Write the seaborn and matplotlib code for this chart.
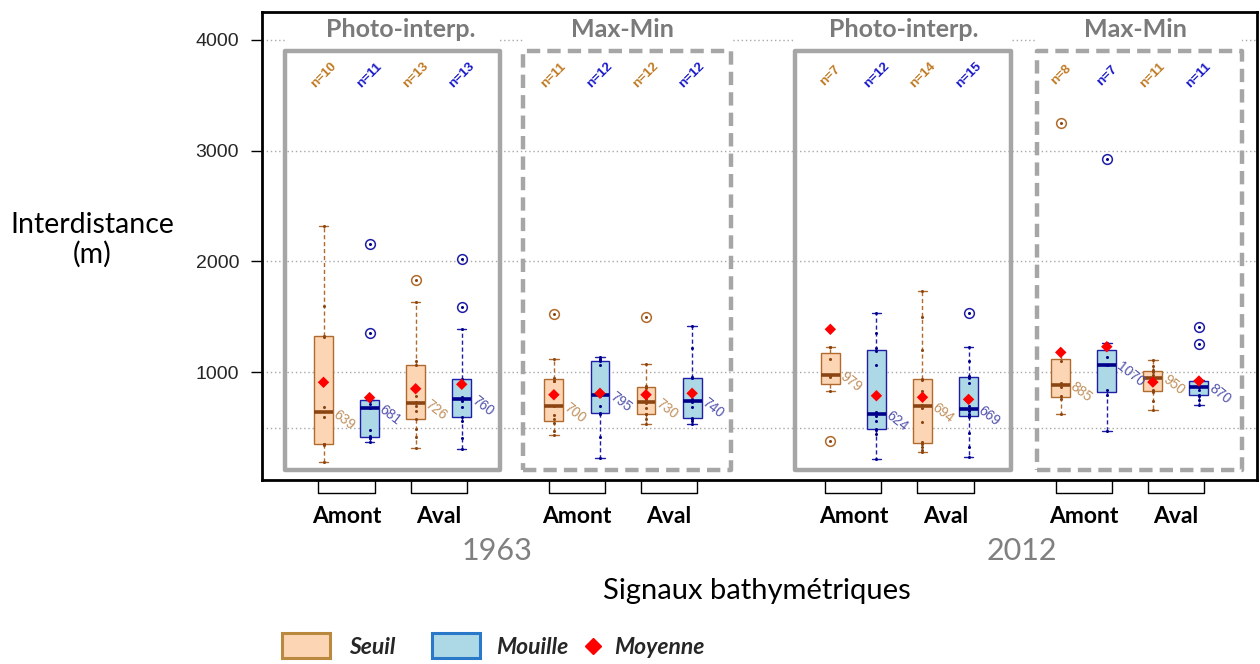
import numpy as np
import pandas as pd
import matplotlib
matplotlib.use("Agg")
import matplotlib.pyplot as plt
import matplotlib.transforms as mtransforms
from matplotlib.patches import Rectangle
from matplotlib.lines import Line2D
import seaborn as sns

# ---------------- data ----------------
years = ["1963", "2012"]
methods = ["Photo-interp.", "Max-Min"]
reaches = ["Amont", "Aval"]
types = ["Seuil", "Mouille"]

# 1963 - Photo-interp.
p63_amont_seuil = [189, 345, 354, 356, 595, 683, 1322, 1327, 1600, 2320]
p63_amont_mouille = [375, 405, 410, 422, 480, 681, 710, 745, 755, 1352, 2157]
p63_aval_seuil = [317, 420, 490, 579, 651, 700, 726, 735, 790, 1066, 1099, 1631, 1833]
p63_aval_mouille = [308, 410, 560, 597, 687, 740, 760, 770, 781, 943, 1390, 1592, 2019]
# 1963 - Max-Min
m63_amont_seuil = [437, 474, 540, 576, 612, 700, 919, 925, 949, 1120, 1526]
m63_amont_mouille = [227, 420, 625, 632, 700, 785, 805, 1069, 1100, 1108, 1120, 1141]
m63_aval_seuil = [531, 580, 625, 628, 680, 720, 740, 762, 862, 874, 1072, 1502]
m63_aval_mouille = [531, 560, 582, 586, 690, 730, 750, 757, 950, 960, 1216, 1420]
# 2012 - Photo-interp.
p12_amont_seuil = [378, 831, 957, 979, 1117, 1225, 1225]
p12_amont_mouille = [218, 440, 480, 488, 560, 610, 638, 1066, 1195, 1220, 1354, 1538]
p12_aval_seuil = [278, 300, 330, 355, 375, 550, 680, 708, 830, 930, 939, 1201, 1501, 1736]
p12_aval_mouille = [233, 330, 450, 600, 612, 620, 650, 669, 700, 900, 950, 970, 1100, 1231, 1535]
# 2012 - Max-Min
m12_amont_seuil = [621, 760, 783, 870, 900, 1100, 1183, 3246]
m12_amont_mouille = [473, 800, 844, 1070, 1141, 1267, 2921]
m12_aval_seuil = [657, 740, 820, 838, 900, 950, 980, 1000, 1024, 1060, 1111]
m12_aval_mouille = [702, 750, 790, 800, 840, 870, 900, 915, 929, 1255, 1411]

# means shown as red diamonds (Amont-Seuil, Amont-Mouille, Aval-Seuil, Aval-Mouille)
means_p63 = [910, 772, 852, 892]
means_m63 = [798, 811, 798, 811]
means_p12 = [1388, 789, 775, 756]
means_m12 = [1180, 1231, 912, 922]

groups = [
    p63_amont_seuil, p63_amont_mouille, p63_aval_seuil, p63_aval_mouille,
    m63_amont_seuil, m63_amont_mouille, m63_aval_seuil, m63_aval_mouille,
    p12_amont_seuil, p12_amont_mouille, p12_aval_seuil, p12_aval_mouille,
    m12_amont_seuil, m12_amont_mouille, m12_aval_seuil, m12_aval_mouille,
]
means = means_p63 + means_m63 + means_p12 + means_m12

y_ticks = [1000, 2000, 3000, 4000]
grid_levels = [500, 1000, 2000, 3000, 4000]

# ---------------- style ----------------
sns.set_theme(style="white")
plt.rcParams["font.family"] = ["Lato", "DejaVu Sans"]

seuil_fill, seuil_edge, seuil_dark = "#FCD5B4", "#B06A2C", "#8B4513"
mouille_fill, mouille_edge, mouille_dark = "#ADD8E6", "#1E1EA8", "#00008B"
colors = {
    "Seuil": (seuil_fill, seuil_edge, seuil_dark, "#C07A22", "#C0905E"),
    "Mouille": (mouille_fill, mouille_edge, mouille_dark, "#1A1ACC", "#5252AE"),
}

# ---------------- build table ----------------
rows = []
meta = []
gi = 0
for yi, year in enumerate(years):
    for mi, meth in enumerate(methods):
        for ri, reach in enumerate(reaches):
            for ti, typ in enumerate(types):
                slot = yi * 11 + mi * 5 + ri * 2 + ti
                vals = groups[gi]
                for v in vals:
                    rows.append({"slot": slot, "value": v, "type": typ})
                meta.append((slot, typ, vals, means[gi]))
                gi += 1
df = pd.DataFrame(rows)
order = list(range(20))

fig = plt.figure(figsize=(12.6, 6.64), dpi=100)
ax = fig.add_axes([262 / 1260, 1 - 480 / 664, 995 / 1260, 468 / 664])

for typ in types:
    fill, edge, dark, _, _ = colors[typ]
    sub = df[df["type"] == typ]
    sns.boxplot(
        data=sub, x="slot", y="value", order=order, width=0.41,
        color=fill, saturation=1, linecolor=edge, linewidth=1, whis=1.5,
        fliersize=7,
        whiskerprops=dict(linestyle=(0, (3, 2)), linewidth=1),
        medianprops=dict(color=dark, linewidth=2.6),
        flierprops=dict(marker="o", markerfacecolor="none",
                        markeredgecolor=edge, markeredgewidth=1.1),
        ax=ax,
    )
    sns.stripplot(data=sub, x="slot", y="value", order=order, jitter=False,
                  size=2.2, color=dark, ax=ax, zorder=4)

slots = [m[0] for m in meta]
sns.scatterplot(x=slots, y=means, marker="D", color="red", s=34,
                edgecolor="none", ax=ax, zorder=6)

# n labels and median labels
for slot, typ, vals, mean in meta:
    _, _, _, ncol, mcol = colors[typ]
    ax.text(slot, 3680, f"n={len(vals)}", rotation=45, ha="center", va="center",
            fontsize=9.5, fontweight="bold", color=ncol, zorder=7,
            family=["Liberation Sans"])
    med = float(np.median(vals))
    ax.text(slot + 0.25, med, f"{med:.0f}", rotation=-38, rotation_mode="anchor",
            ha="left", va="center", fontsize=10, color=mcol, zorder=7,
            family=["Liberation Sans"])

# grid lines
for g in grid_levels:
    ax.axhline(g, color="#A8A8A8", lw=1, ls=(0, (1, 2)), zorder=0.5)

ax.set_xlim(-1.335, 20.26)
ax.set_ylim(29, 4250)
ax.set_xticks([])
ax.set_xlabel("")
ax.set_ylabel("")
ax.set_yticks(y_ticks)
ax.set_yticklabels([str(t) for t in y_ticks], family="Liberation Sans", fontsize=14)
ax.tick_params(axis="y", direction="out", length=8, width=1, pad=8.5, left=True,
               color="black")
for sp in ax.spines.values():
    sp.set_visible(True)
    sp.set_color("black")
    sp.set_linewidth(2)

# method frames
frames = [(-0.84, 3.84, "Photo-interp.", "-", 1.68),
          (4.34, 8.84, "Max-Min", (0, (3, 1.6)), 6.48),
          (10.23, 14.92, "Photo-interp.", "-", 12.6),
          (15.48, 19.93, "Max-Min", (0, (3, 1.6)), 17.63)]
for x0, x1, title, ls, tx in frames:
    ax.add_patch(Rectangle((x0, 3900), x1 - x0, 340, facecolor="white",
                           edgecolor="none", zorder=1.2))
    ax.add_patch(Rectangle((x0, 119), x1 - x0, 3900 - 119, fill=False,
                           edgecolor="#A6A6A6", lw=3.2, ls=ls,
                           joinstyle="round", zorder=1.5))
    ax.text(tx, 4088, title, ha="center", va="center", fontsize=18,
            fontweight="bold", color="#7A7A7A", zorder=7)

# brackets + reach labels under the axis
trans = mtransforms.blended_transform_factory(ax.transData, ax.transAxes)
for yi in range(2):
    for mi in range(2):
        for ri, reach in enumerate(reaches):
            c = yi * 11 + mi * 5 + ri * 2 + 0.5
            ax.add_line(Line2D([c - 0.61, c - 0.61, c + 0.61, c + 0.61],
                               [0, -0.028, -0.028, 0], transform=trans,
                               color="black", lw=1, clip_on=False))
            ax.text(c, -0.079, reach, transform=trans, ha="center", va="center",
                    fontsize=16.5, fontweight="bold", color="black")

fig.text(497 / 1260, 1 - 551 / 664, years[0], ha="center", va="center",
         fontsize=22, color="#808080")
fig.text(1022 / 1260, 1 - 551 / 664, years[1], ha="center", va="center",
         fontsize=22, color="#808080")
fig.text(757 / 1260, 1 - 591 / 664, "Signaux bathymétriques", ha="center",
         va="center", fontsize=21, color="black")
fig.text(92 / 1260, 1 - 240 / 664, "Interdistance\n(m)", ha="center",
         va="center", fontsize=20.5, color="black", linespacing=1.15)

# legend
fig.patches.append(Rectangle((282 / 1260, 1 - 658 / 664), 48 / 1260, 25 / 664,
                             transform=fig.transFigure, facecolor=seuil_fill,
                             edgecolor="#B8893F", lw=2.2))
fig.patches.append(Rectangle((432 / 1260, 1 - 658 / 664), 48 / 1260, 25 / 664,
                             transform=fig.transFigure, facecolor=mouille_fill,
                             edgecolor="#2A78C8", lw=2.2))
fig.text(349 / 1260, 1 - 648 / 664, "Seuil", ha="left", va="center",
         fontsize=16.5, style="italic", fontweight="bold")
fig.text(496 / 1260, 1 - 648 / 664, "Mouille", ha="left", va="center",
         fontsize=16.5, style="italic", fontweight="bold")
fig.lines.append(Line2D([593 / 1260], [1 - 646 / 664], transform=fig.transFigure,
                        marker="D", color="red", markersize=8, ls="none"))
fig.text(614 / 1260, 1 - 648 / 664, "Moyenne", ha="left", va="center",
         fontsize=16.5, style="italic", fontweight="bold")

fig.savefig("out.png", dpi=100, facecolor="white")
